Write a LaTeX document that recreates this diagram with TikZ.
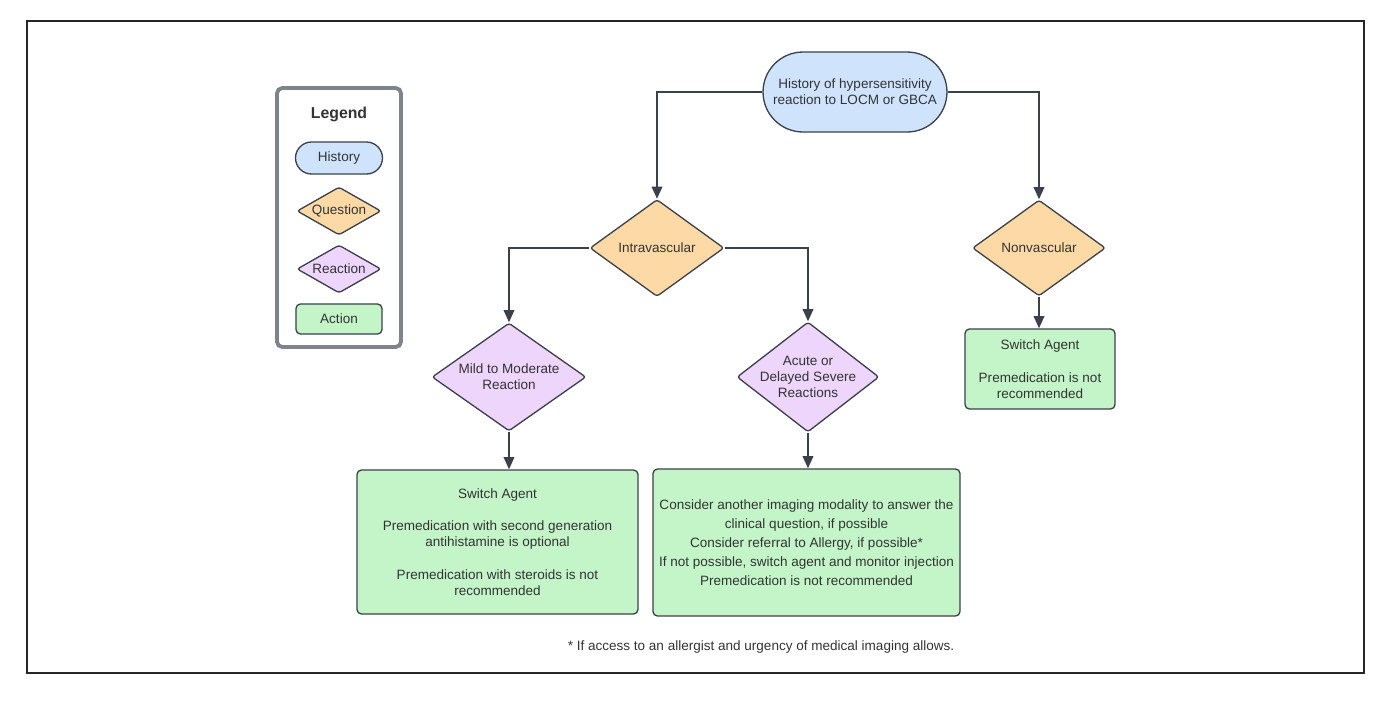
\documentclass[tikz,border=0pt]{standalone}
\usepackage{fontspec}
\setmainfont{Liberation Sans}
\usetikzlibrary{shapes.geometric, shapes.misc, arrows.meta, positioning}
\definecolor{hblue}{HTML}{CFE4FC}
\definecolor{qorange}{HTML}{FDD9A6}
\definecolor{rpurple}{HTML}{EDD5FB}
\definecolor{agreen}{HTML}{C4F5C9}
\definecolor{edgec}{HTML}{3A414A}
\definecolor{txt}{HTML}{333333}
\definecolor{legendgray}{HTML}{7E848C}
\tikzset{
  base/.style={draw=edgec, line width=0.75pt, text=txt, align=center,
    font=\fontsize{7.7}{9.1}\selectfont, inner sep=0pt},
  hist/.style={base, fill=hblue, rounded rectangle},
  quest/.style={base, fill=qorange, diamond, rounded corners=1.5pt},
  react/.style={base, fill=rpurple, diamond, rounded corners=1.5pt},
  act/.style={base, fill=agreen, rectangle, rounded corners=2.5pt},
  arr/.style={draw=edgec, line width=1.1pt, -{Triangle[length=7pt,width=6pt]}},
}
\begin{document}
\begin{tikzpicture}[x=0.02cm, y=-0.02cm]
\useasboundingbox (0,0) rectangle (1384,701);
\draw[line width=0.8pt, draw=black!85] (27,21) rectangle (1364,673);

% legend
\node[draw=legendgray, line width=2.2pt, rounded corners=3pt, minimum width=2.48cm, minimum height=5.18cm] (legend) at (339,217.5) {};
\node[text=txt, font=\bfseries\fontsize{9}{11}\selectfont] (legendtitle) at (339,114) {Legend};
\node[hist, minimum width=1.74cm, minimum height=0.64cm] (lhist) at (339,158) {History};
\node[quest, aspect=1.75, minimum width=1.68cm, minimum height=0.96cm] (lquest) at (339,211) {Question};
\node[react, aspect=1.75, minimum width=1.68cm, minimum height=0.96cm] (lreact) at (339,269) {Reaction};
\node[act, minimum width=1.72cm, minimum height=0.6cm] (lact) at (339,319) {Action};

% flow
\node[hist, minimum width=3.68cm, minimum height=1.6cm] (hist) at (855,92) {History of hypersensitivity\\reaction to LOCM or GBCA};
\node[quest, aspect=1.38, minimum width=2.68cm, minimum height=1.94cm] (intra) at (657,248) {Intravascular};
\node[quest, aspect=1.38, minimum width=2.66cm, minimum height=1.92cm] (nonvasc) at (1039,248) {Nonvascular};
\node[react, aspect=1.43, minimum width=3.08cm, minimum height=2.16cm] (mild) at (509,377) {Mild to Moderate\\Reaction};
\node[react, aspect=1.29, inner sep=-3pt, minimum width=2.84cm, minimum height=2.2cm] (acute) at (808,377) {Acute or\\Delayed Severe\\Reactions};
\node[act, minimum width=5.62cm, minimum height=2.88cm] (mildact) at (497.5,542) {Switch Agent\\[9.3pt]Premedication with second generation\\antihistamine is optional\\[9.3pt]Premedication with steroids is not\\recommended};
\node[act, minimum width=6.14cm, minimum height=2.94cm, font=\fontsize{7.7}{10.8}\selectfont] (acuteact) at (806.5,542.5) {Consider another imaging modality to answer the\\clinical question, if possible\\Consider referral to Allergy, if possible*\\If not possible, switch agent and monitor injection\\Premedication is not recommended};
\node[act, minimum width=3.0cm, minimum height=1.6cm] (nonvact) at (1040,369) {Switch Agent\\[9.3pt]Premedication is not\\recommended};

\draw[arr] (hist.west) -| (intra.north);
\draw[arr] (hist.east) -| (nonvasc.north);
\draw[arr] (intra.west) -| (mild.north);
\draw[arr] (intra.east) -| (acute.north);
\draw[arr] (mild.south) -- (mild.south |- mildact.north);
\draw[arr] (acute.south) -- (acute.south |- acuteact.north);
\draw[arr] (nonvasc.south) -- (nonvasc.south |- nonvact.north);

\node[text=txt, font=\fontsize{7.7}{9.1}\selectfont] (note) at (761,647) {* If access to an allergist and urgency of medical imaging allows.};
\end{tikzpicture}
\end{document}
